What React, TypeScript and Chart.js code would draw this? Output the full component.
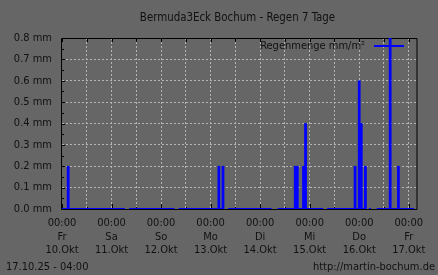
import React, { useEffect, useRef } from "react";
import { Chart, registerables } from "chart.js";

Chart.register(...registerables);

// ---- texts ----
const titleText = "Bermuda3Eck Bochum - Regen 7 Tage";
const legendLabel = "Regenmenge mm/m²";
const footerLeft = "17.10.25 - 04:00";
const footerRight = "http://martin-bochum.de";

// ---- x axis (hours since Fr 10.10.2025 00:00) ----
const xMax = 172;
const gridHours = [0, 12, 24, 36, 48, 60, 72, 84, 96, 108, 120, 132, 144, 156, 168];
const timeLabel = "00:00";
const dayLabels = ["Fr", "Sa", "So", "Mo", "Di", "Mi", "Do", "Fr"];
const dateLabels = ["10.Okt", "11.Okt", "12.Okt", "13.Okt", "14.Okt", "15.Okt", "16.Okt", "17.Okt"];

// ---- y axis ----
const yTickValues = [0, 0.1, 0.2, 0.3, 0.4, 0.5, 0.6, 0.7, 0.8];
const yMinorValues = [0.05, 0.15, 0.25, 0.35, 0.45, 0.55, 0.65, 0.75];
const yUnit = " mm";

// ---- rain (hourly sums, mm) ----
const rainHours = [3, 76, 78, 113, 114, 117, 118, 142, 144, 145, 147, 159, 163];
const rainValues = [0.2, 0.2, 0.2, 0.2, 0.2, 0.2, 0.4, 0.2, 0.6, 0.4, 0.2, 0.8, 0.2];

// ---- periods with recorded data (zero line) ----
const dataStarts = [0, 32.5, 56.5, 80.5, 104.5, 128.5, 148.7, 152.5];
const dataEnds = [30.5, 54.5, 78.5, 101.5, 126.5, 147.3, 149.7, 170.5];

const FONT = "'DejaVu Sans Condensed', 'DejaVu Sans', sans-serif";
const BG = "#666666";
const TEXT = "#111111";
const GRID = "#b4b4b4";
const BLUE = "#0000ff";

export default function App() {
  const ref = useRef<HTMLCanvasElement | null>(null);

  useEffect(() => {
    const canvas = ref.current;
    if (!canvas) return;

    const barData = rainHours.map((h, i) => ({ x: h, y: rainValues[i] }));
    const lineData: { x: number; y: number | null }[] = [];
    dataStarts.forEach((s, i) => {
      lineData.push({ x: s, y: 0 });
      lineData.push({ x: dataEnds[i], y: 0 });
      if (i < dataStarts.length - 1) {
        lineData.push({ x: (dataEnds[i] + dataStarts[i + 1]) / 2, y: null });
      }
    });

    const rrdPlugin = {
      id: "rrd",
      beforeDraw(chart: any) {
        const c = chart.ctx;
        c.save();
        c.fillStyle = BG;
        c.fillRect(0, 0, chart.width, chart.height);
        c.restore();
      },
      beforeDatasetsDraw(chart: any) {
        const c = chart.ctx;
        const a = chart.chartArea;
        const xs = chart.scales.x;
        const ys = chart.scales.y;
        c.save();
        c.strokeStyle = "#000";
        c.lineWidth = 1;
        c.beginPath();
        c.rect(Math.round(a.left) - 0.5, Math.round(a.top) + 0.5, Math.round(a.right - a.left) + 0.5, Math.round(a.bottom - a.top));
        c.stroke();
        c.beginPath();
        // left axis ticks (inward)
        yTickValues.forEach((v) => {
          const y = Math.round(ys.getPixelForValue(v)) + 0.5;
          c.moveTo(a.left, y);
          c.lineTo(a.left + 3, y);
        });
        yMinorValues.forEach((v) => {
          const y = Math.round(ys.getPixelForValue(v)) + 0.5;
          c.moveTo(a.left, y);
          c.lineTo(a.left + 2, y);
        });
        // top & bottom ticks
        gridHours.forEach((h) => {
          const x = Math.round(xs.getPixelForValue(h)) + 0.5;
          c.moveTo(x, a.top);
          c.lineTo(x, a.top + 4);
          const len = h % 24 === 0 ? 5 : 2;
          c.moveTo(x, a.bottom);
          c.lineTo(x, a.bottom - len);
        });
        c.stroke();
        c.restore();
      },
      afterDraw(chart: any) {
        const c = chart.ctx;
        const a = chart.chartArea;
        c.save();
        c.fillStyle = TEXT;
        c.font = `11.4px ${FONT}`;
        c.textBaseline = "middle";
        c.textAlign = "center";
        c.fillText(titleText, (a.left + a.right) / 2 - 2, 18);
        c.font = `11px ${FONT}`;
        c.textAlign = "left";
        c.fillText(footerLeft, 6, 267);
        c.textAlign = "right";
        c.fillText(footerRight, chart.width - 3, 267);
        // legend inside plot
        const ly = a.top + 8;
        c.fillText(legendLabel, a.right - 52, ly);
        c.strokeStyle = BLUE;
        c.lineWidth = 2;
        c.beginPath();
        c.moveTo(a.right - 43, ly);
        c.lineTo(a.right - 13, ly);
        c.stroke();
        c.restore();
      },
    };

    const chart = new Chart(canvas, {
      type: "bar",
      data: {
        datasets: [
          {
            type: "line",
            label: legendLabel,
            data: lineData as any,
            borderColor: BLUE,
            borderWidth: 2,
            pointRadius: 0,
            spanGaps: false,
            fill: false,
            order: 2,
          } as any,
          {
            type: "bar",
            label: legendLabel,
            data: barData as any,
            backgroundColor: BLUE,
            borderWidth: 0,
            barThickness: 2.1,
            grouped: false,
            order: 1,
          } as any,
        ],
      },
      options: {
        animation: false,
        responsive: false,
        devicePixelRatio: 1,
        layout: { padding: { top: 38, right: 21, left: 0, bottom: 0 } },
        plugins: {
          legend: { display: false },
          tooltip: { enabled: false },
          title: { display: false },
        },
        scales: {
          x: {
            type: "linear",
            min: 0,
            max: xMax,
            offset: false,
            afterBuildTicks: (s: any) => {
              s.ticks = gridHours.map((v) => ({ value: v }));
            },
            afterFit: (s: any) => {
              s.height = 66;
            },
            ticks: {
              autoSkip: false,
              maxRotation: 0,
              minRotation: 0,
              padding: 8,
              color: TEXT,
              font: { family: FONT, size: 11, lineHeight: 1.2 },
              callback: (v: any) => {
                const n = Number(v);
                if (n % 24 !== 0) return "";
                const i = n / 24;
                return [timeLabel, dayLabels[i], dateLabels[i]];
              },
            },
            grid: {
              offset: false,
              drawTicks: false,
              lineWidth: 1,
              color: (ctx: any) => (ctx.tick && ctx.tick.value === 0 ? "rgba(0,0,0,0)" : GRID),
            },
            border: { display: false, dash: [2, 2] },
          } as any,
          y: {
            type: "linear",
            min: 0,
            max: 0.8,
            afterBuildTicks: (s: any) => {
              s.ticks = yTickValues.map((v) => ({ value: v }));
            },
            afterFit: (s: any) => {
              s.width = 62;
            },
            ticks: {
              padding: 10,
              color: TEXT,
              font: { family: FONT, size: 11 },
              callback: (v: any) => Number(v).toFixed(1) + yUnit,
            },
            grid: {
              drawTicks: false,
              lineWidth: 1,
              color: (ctx: any) =>
                ctx.tick && (ctx.tick.value === 0 || Math.abs(ctx.tick.value - 0.8) < 1e-9) ? "rgba(0,0,0,0)" : GRID,
            },
            border: { display: false, dash: [2, 2] },
          } as any,
        },
      },
      plugins: [rrdPlugin],
    });

    return () => chart.destroy();
  }, []);

  return (
    <div style={{ position: "fixed", left: 0, top: 0, width: 438, height: 275, background: BG }}>
      <canvas ref={ref} width={438} height={275} style={{ display: "block", width: 438, height: 275 }} />
    </div>
  );
}
